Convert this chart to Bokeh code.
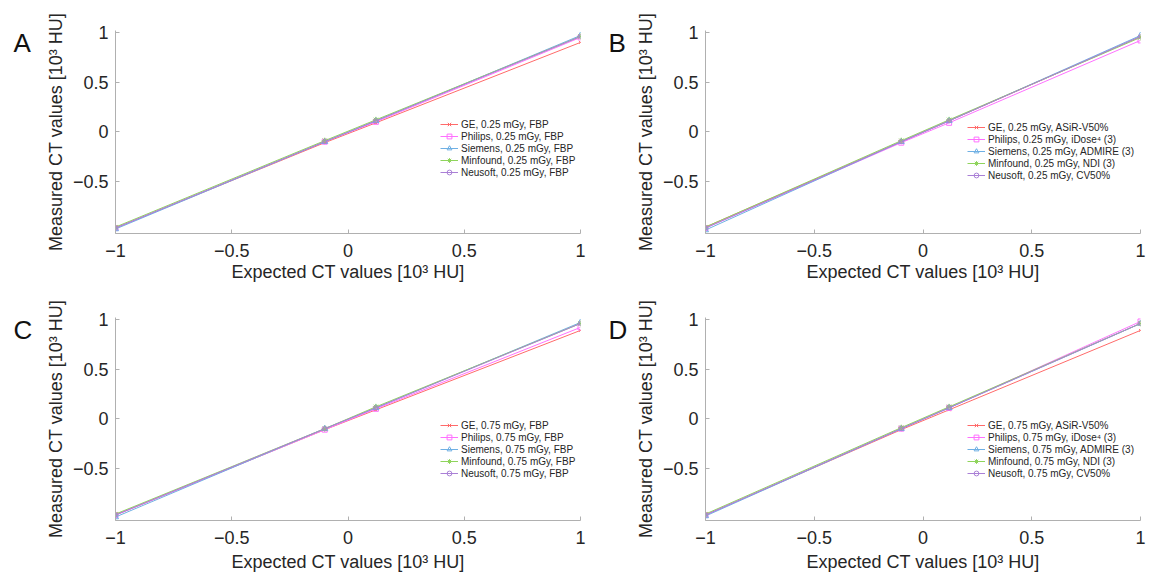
from bokeh.plotting import figure
from bokeh.layouts import column, row
from bokeh.models import Legend, LegendItem, FixedTicker, Range1d, CustomJSTickFormatter, Label
from bokeh.embed import file_html
from bokeh.resources import INLINE

# ---------------- data ----------------
expected = [-1.0, -0.1, 0.12, 1.0]
x_ticks = [-1, -0.5, 0, 0.5, 1]
y_ticks = [-0.5, 0, 0.5, 1]

vendors = ["GE", "Philips", "Siemens", "Minfound", "Neusoft"]

A_ge = [-0.97, -0.11, 0.09, 0.90]
A_philips = [-0.97, -0.10, 0.10, 0.95]
A_siemens = [-0.98, -0.10, 0.11, 0.97]
A_minfound = [-0.96, -0.09, 0.12, 0.96]
A_neusoft = [-0.97, -0.10, 0.11, 0.96]

B_ge = [-0.96, -0.10, 0.11, 0.96]
B_philips = [-0.97, -0.11, 0.09, 0.92]
B_siemens = [-0.99, -0.10, 0.11, 0.97]
B_minfound = [-0.96, -0.09, 0.12, 0.95]
B_neusoft = [-0.97, -0.10, 0.11, 0.96]

C_ge = [-0.97, -0.11, 0.09, 0.89]
C_philips = [-0.97, -0.11, 0.10, 0.92]
C_siemens = [-0.99, -0.10, 0.11, 0.97]
C_minfound = [-0.96, -0.10, 0.12, 0.96]
C_neusoft = [-0.97, -0.10, 0.11, 0.96]

D_ge = [-0.97, -0.11, 0.09, 0.89]
D_philips = [-0.97, -0.10, 0.11, 0.98]
D_siemens = [-0.98, -0.10, 0.11, 0.96]
D_minfound = [-0.96, -0.09, 0.12, 0.96]
D_neusoft = [-0.97, -0.10, 0.11, 0.96]

A_labels = ["GE, 0.25 mGy, FBP", "Philips, 0.25 mGy, FBP", "Siemens, 0.25 mGy, FBP",
            "Minfound, 0.25 mGy, FBP", "Neusoft, 0.25 mGy, FBP"]
B_labels = ["GE, 0.25 mGy, ASiR-V50%", "Philips, 0.25 mGy, iDose\u2074 (3)",
            "Siemens, 0.25 mGy, ADMIRE (3)", "Minfound, 0.25 mGy, NDI (3)",
            "Neusoft, 0.25 mGy, CV50%"]
C_labels = ["GE, 0.75 mGy, FBP", "Philips, 0.75 mGy, FBP", "Siemens, 0.75 mGy, FBP",
            "Minfound, 0.75 mGy, FBP", "Neusoft, 0.75 mGy, FBP"]
D_labels = ["GE, 0.75 mGy, ASiR-V50%", "Philips, 0.75 mGy, iDose\u2074 (3)",
            "Siemens, 0.75 mGy, ADMIRE (3)", "Minfound, 0.75 mGy, NDI (3)",
            "Neusoft, 0.75 mGy, CV50%"]

# ---------------- style ----------------
FONT = "Liberation Sans"
colors = ["#ff6a6a", "#ff70ff", "#6fb0e4", "#8fd45c", "#aa80d6"]
markers = ["x", "square", "triangle", "asterisk", "circle"]
msizes = [4, 5, 6, 6, 4]
AX = "#b0b0b0"
TXT = "#262626"

fmt = CustomJSTickFormatter(code="""
if (tick < 0) { return "\\u2212" + (-tick).toString(); }
return tick.toString();
""")


def letter_fig(letter, width, height, lx, ly_from_top):
    f = figure(width=width, height=height, output_backend="svg", toolbar_location=None,
               title_location=None, x_axis_location=None, y_axis_location=None,
               x_range=Range1d(0, width), y_range=Range1d(0, height),
               min_border=0, min_border_left=0, min_border_right=0,
               min_border_top=0, min_border_bottom=0)
    f.grid.visible = False
    f.outline_line_color = None
    f.add_layout(Label(x=lx, y=height - ly_from_top, text=letter, text_font=FONT,
                       text_font_size="26px", text_color="#111111",
                       text_baseline="alphabetic", text_align="left"))
    return f


def make_panel(series, labels, width, height, bl, br, bt, bb,
               leg_x, leg_y, tick_sd, lab_sd):
    p = figure(width=width, height=height, output_backend="svg", toolbar_location=None,
               x_range=Range1d(-1, 1), y_range=Range1d(-1.025, 1.02),
               min_border_left=bl, min_border_right=br, min_border_top=bt,
               min_border_bottom=bb)
    p.outline_line_color = None
    p.grid.visible = False
    for ax in (p.xaxis[0], p.yaxis[0]):
        ax.axis_line_color = AX
        ax.major_tick_line_color = AX
        ax.major_tick_in = 4
        ax.major_tick_out = 0
        ax.minor_tick_line_color = None
        ax.major_label_text_font = FONT
        ax.major_label_text_font_size = "18px"
        ax.major_label_text_color = TXT
        ax.axis_label_text_font = FONT
        ax.axis_label_text_font_size = "18px"
        ax.axis_label_text_font_style = "normal"
        ax.axis_label_text_color = TXT
        ax.formatter = fmt
    p.xaxis.ticker = FixedTicker(ticks=x_ticks)
    p.yaxis.ticker = FixedTicker(ticks=y_ticks)
    p.xaxis.axis_label = "Expected CT values [10\u00b3 HU]"
    p.yaxis.axis_label = "Measured CT values [10\u00b3 HU]"
    p.xaxis.major_label_standoff = tick_sd
    p.xaxis.axis_label_standoff = lab_sd
    p.yaxis.major_label_standoff = 7
    p.yaxis.axis_label_standoff = 4

    items = []
    for i, vals in enumerate(series):
        ln = p.line(expected, vals, line_color=colors[i], line_width=1)
        mk = p.scatter(expected, vals, marker=markers[i], size=msizes[i],
                       line_color=colors[i], fill_color=None, line_width=1)
        items.append(LegendItem(label=labels[i], renderers=[ln, mk]))
    leg = Legend(items=items, location=(leg_x, leg_y), padding=0, margin=0,
                 spacing=0, label_height=12, glyph_height=12, glyph_width=18,
                 label_standoff=3, border_line_color=None,
                 background_fill_color=None, background_fill_alpha=0,
                 label_text_font=FONT, label_text_font_size="10px",
                 label_text_color=TXT)
    p.add_layout(leg, "center")
    return p


# top row (0..288), bottom row (288..577)
LA = letter_fig("A", 42, 288, 13, 18)
pA = make_panel([A_ge, A_philips, A_siemens, A_minfound, A_neusoft], A_labels,
                554, 288, 68, 16, 30, 55, 325, 55, 10, 2)
LB = letter_fig("B", 36, 288, 12, 18)
pB = make_panel([B_ge, B_philips, B_siemens, B_minfound, B_neusoft], B_labels,
                518, 288, 70, 10, 30, 55, 262, 52, 10, 2)

LC = letter_fig("C", 42, 289, 13, 18)
pC = make_panel([C_ge, C_philips, C_siemens, C_minfound, C_neusoft], C_labels,
                554, 289, 68, 16, 29, 57, 325, 41, 10, 5)
LD = letter_fig("D", 36, 289, 12, 18)
pD = make_panel([D_ge, D_philips, D_siemens, D_minfound, D_neusoft], D_labels,
                518, 289, 70, 10, 29, 57, 262, 41, 10, 5)

layout = column(row(LA, pA, LB, pB), row(LC, pC, LD, pD))
open("out.html", "w").write(file_html(layout, INLINE))
